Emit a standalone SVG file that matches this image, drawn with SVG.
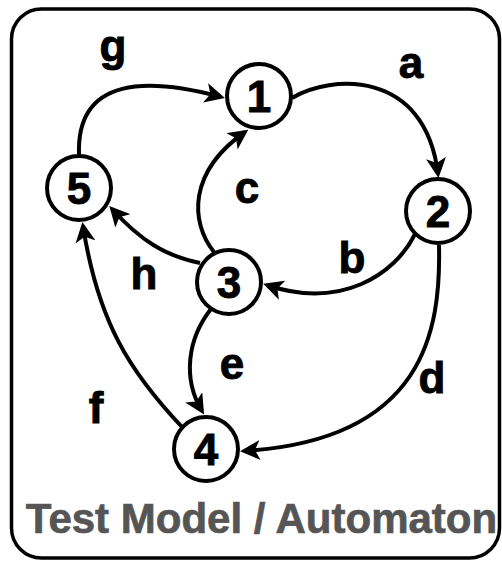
<svg xmlns="http://www.w3.org/2000/svg" width="502" height="562" viewBox="0 0 502 562">
  <style>
    .frame { fill: #ffffff; stroke: #000; stroke-width: 3.5; }
    .state circle { fill: #ffffff; stroke: #000; stroke-width: 4; }
    .state text { font-family: "Liberation Sans", Arial, sans-serif; font-weight: bold; font-size: 44px; fill: #000; stroke: #000; stroke-width: 0.9; text-anchor: middle; }
    .edge { fill: none; stroke: #000; stroke-width: 4; marker-end: url(#arrow); }
    .label { font-family: "Liberation Sans", Arial, sans-serif; font-weight: bold; font-size: 44px; fill: #000; stroke: #000; stroke-width: 0.9; text-anchor: middle; }
    .title { font-family: "Liberation Sans", Arial, sans-serif; font-weight: bold; font-size: 42px; fill: #555555; stroke: #555555; stroke-width: 0.7; text-anchor: middle; }
  </style>
  <defs>
    <!-- notched arrowhead, about 20px long and wide at stroke 4 -->
    <marker id="arrow" viewBox="0 0 10 10" refX="8" refY="5" markerWidth="5" markerHeight="5" markerUnits="strokeWidth" orient="auto">
      <path d="M0,0 L10,5 L0,10 L2.5,5 Z" fill="#000"/>
    </marker>
  </defs>

  <rect class="frame" x="11.5" y="9" width="488" height="549" rx="30" ry="30"/>

  <!-- transitions -->
  <g id="connectors">
    <path id="edge-a" class="edge" d="M292,98 C330,75 425,68 438,174"/>
    <path id="edge-b" class="edge" d="M415,234 C395,275 340,310 267,285"/>
    <path id="edge-c" class="edge" d="M214,252 C190,222 188,172 245,132"/>
    <path id="edge-h" class="edge" d="M200,263 C165,256 140,240 112,209"/>
    <path id="edge-g" class="edge" d="M79,155 C76,75 150,78 221,97"/>
    <path id="edge-f" class="edge" d="M182,427 C130,372 98,322 83,226"/>
    <path id="edge-e" class="edge" d="M211,309 C188,338 182,378 202,411"/>
    <path id="edge-d" class="edge" d="M439,245 C441,330 425,440 244,451"/>
  </g>

  <!-- transition labels -->
  <g id="labels">
    <text class="label" x="113" y="61">g</text>
    <text class="label" x="411" y="78">a</text>
    <text class="label" x="247" y="203">c</text>
    <text class="label" x="352" y="273">b</text>
    <text class="label" x="144" y="289">h</text>
    <text class="label" x="232" y="379">e</text>
    <text class="label" x="432" y="393">d</text>
    <text class="label" x="96" y="423">f</text>
  </g>

  <!-- states -->
  <g id="node-1" class="state">
    <circle cx="259" cy="96" r="32"/>
    <text x="259" y="112">1</text>
  </g>
  <g id="node-2" class="state">
    <circle cx="438" cy="211" r="32"/>
    <text x="438" y="227">2</text>
  </g>
  <g id="node-3" class="state">
    <circle cx="229" cy="282" r="32"/>
    <text x="229" y="298">3</text>
  </g>
  <g id="node-4" class="state">
    <circle cx="206" cy="449" r="32"/>
    <text x="206" y="465">4</text>
  </g>
  <g id="node-5" class="state">
    <circle cx="79" cy="188" r="32"/>
    <text x="79" y="204">5</text>
  </g>

  <text class="title" x="261.5" y="533">Test Model / Automaton</text>
</svg>
